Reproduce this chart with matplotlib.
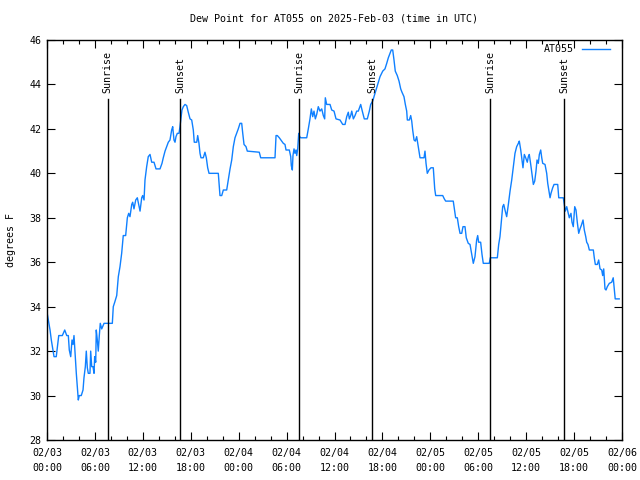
import matplotlib
matplotlib.use("Agg")
import matplotlib.pyplot as plt
from matplotlib.lines import Line2D

title = "Dew Point for AT055 on 2025-Feb-03 (time in UTC)"
series_name = "AT055"
ylabel = "degrees F"

# hours since 2025-02-03 00:00 UTC
hours = [0.00, 0.38, 0.54, 0.88, 1.16, 1.38, 1.47, 1.92, 2.22, 2.47, 2.67, 2.79, 2.97, 3.13, 3.26,
         3.38, 3.54, 3.67, 3.79, 3.92, 4.04, 4.29, 4.51, 4.63, 4.80, 4.92, 5.05, 5.17, 5.38, 5.47,
         5.60, 5.76, 5.89, 5.97, 6.10, 6.17, 6.30, 6.42, 6.55, 6.67, 6.85, 6.97, 7.14, 8.18,
         8.30, 8.48, 8.73, 8.93, 9.14, 9.35, 9.55, 9.85, 10.06, 10.23, 10.39, 10.61, 10.73, 10.89,
         11.11, 11.31, 11.48, 11.65, 11.86, 11.98, 12.15, 12.27, 12.48, 12.68, 12.90, 13.11, 13.40,
         13.65, 14.15, 14.40, 14.56, 14.78, 14.99, 15.19, 15.40, 15.61, 15.74, 15.90, 16.03, 16.15,
         16.32, 16.53, 16.65,
         16.78, 16.90, 17.07, 17.28, 17.49, 17.69, 17.91, 18.12, 18.32, 18.44, 18.75, 18.87, 19.03,
         19.16, 19.28, 19.57, 19.78, 19.95, 20.12, 20.29, 21.45, 21.58, 21.66, 21.88, 22.08, 22.50,
         22.70, 22.92, 23.13, 23.33, 23.54, 23.75, 23.95, 24.17, 24.38, 24.51, 24.67, 24.92, 25.08,
         26.58, 26.76, 28.55, 28.68, 28.84, 29.09, 29.39, 29.59, 29.80, 29.93, 30.34, 30.52, 30.59,
         30.72, 30.80, 30.93, 31.05, 31.18, 31.27, 31.39, 31.52, 31.64, 31.77, 32.52, 32.72, 32.93,
         33.10, 33.27, 33.43, 33.60, 33.77, 33.97, 34.18, 34.40, 34.60, 34.77, 34.85, 35.02, 35.44,
         35.65, 35.94, 36.19, 36.69, 37.03, 37.32, 37.53, 37.73, 37.86, 38.03, 38.16, 38.36, 38.57,
         38.78, 38.98, 39.28, 39.48, 39.73, 40.11, 40.36, 40.53, 40.78, 41.07, 41.36, 41.70, 42.04,
         42.32, 42.54, 42.74, 42.95, 43.11, 43.29, 43.45, 43.61, 43.86, 44.08, 44.29, 44.45, 44.70,
         44.87, 45.04, 45.12, 45.37, 45.54, 45.67, 45.79, 45.96, 46.12, 46.29, 46.42, 46.58, 46.71,
         47.21, 47.33, 47.46, 47.62, 47.83, 48.08, 48.37, 48.55, 48.67, 49.55, 49.75, 49.92, 50.87,
         51.05, 51.17, 51.38, 51.55, 51.72, 51.93, 52.09, 52.34, 52.50, 52.75, 52.97, 53.18, 53.38,
         53.59, 53.80, 53.93, 54.05, 54.30, 54.47, 54.63, 55.38, 55.51, 56.39, 56.56, 56.72, 56.94,
         57.06, 57.19, 57.35, 57.56, 57.77, 57.98, 58.19, 58.39, 58.60, 58.81, 59.02, 59.14, 59.32,
         59.44, 59.60, 59.77, 59.94, 60.14, 60.27, 60.39, 60.57, 60.73, 60.90, 61.07, 61.23, 61.36,
         61.52, 61.65, 61.82, 61.95, 62.07, 62.36, 62.57, 62.70, 62.86, 62.99, 63.11, 63.32, 63.49,
         63.95, 64.08, 64.65, 64.78, 64.90, 65.08, 65.28, 65.40, 65.61, 65.74, 65.90, 66.08, 66.24,
         66.40, 66.58, 66.74, 66.90, 67.12, 67.28, 67.46, 67.58, 67.74, 67.91, 68.41, 68.53, 68.66,
         68.91, 69.08, 69.25, 69.46, 69.58, 69.71, 69.87, 70.00, 70.16, 70.41, 70.71, 70.90, 71.03,
         71.15, 71.65]

dewpoint = [33.75, 32.95, 32.5, 31.75, 31.75, 32.4, 32.7, 32.7, 32.95, 32.7, 32.7, 32.05, 31.75, 32.5, 32.3,
            32.7, 31.75, 31.0, 30.4, 29.8, 30.0, 30.0, 30.25, 30.8, 31.3, 32.0, 31.25, 31.0, 31.0, 32.0,
            31.3, 31.3, 31.0, 31.75, 31.5, 32.95, 32.5, 32.0, 32.7, 33.25, 33.0, 33.1, 33.25, 33.25,
            34.0, 34.2, 34.5, 35.35, 35.8, 36.4, 37.2, 37.2, 38.0, 38.2, 38.05, 38.6, 38.7, 38.4,
            38.8, 38.9, 38.6, 38.3, 38.9, 39.0, 38.8, 39.7, 40.3, 40.75, 40.85, 40.5, 40.5,
            40.2, 40.2, 40.45, 40.7, 41.0, 41.2, 41.4, 41.5, 41.95, 42.1, 41.5, 41.4, 41.65,
            41.8, 41.8, 42.1,
            42.5, 42.85, 43.0, 43.1, 43.05, 42.75, 42.45, 42.4, 41.95, 41.4, 41.4, 41.7, 41.35,
            40.9, 40.7, 40.7, 40.95, 40.7, 40.25, 40.0, 40.0, 39.4, 39.0, 39.0, 39.25, 39.25,
            39.7, 40.2, 40.6, 41.2, 41.6, 41.8, 42.0, 42.25, 42.25, 41.8, 41.3, 41.2, 41.0,
            40.95, 40.7, 40.7, 41.7, 41.7, 41.6, 41.45, 41.35, 41.3, 41.05, 41.05, 40.75, 40.35,
            40.15, 40.8, 41.1, 40.9, 41.05, 40.8, 41.1, 41.8, 41.65, 41.6, 41.6, 42.0, 42.45,
            42.9, 42.55, 42.8, 42.45, 42.65, 43.0, 42.8, 42.9, 42.6, 42.45, 43.4, 43.1, 43.1,
            42.85, 42.8, 42.45, 42.4, 42.2, 42.2, 42.55, 42.75, 42.45, 42.6, 42.8, 42.45, 42.6,
            42.8, 42.8, 43.1, 42.8, 42.45, 42.45, 42.8, 43.1, 43.25, 43.6, 43.95, 44.35, 44.6,
            44.7, 44.95, 45.2, 45.4, 45.55, 45.55, 45.1, 44.6, 44.4, 44.15, 43.8, 43.65, 43.45,
            43.1, 42.8, 42.4, 42.4, 42.6, 42.35, 41.95, 41.5, 41.45, 41.65, 41.35, 41.0, 40.7,
            40.7, 41.0, 40.45, 40.0, 40.15, 40.25, 40.25, 39.3, 39.0, 39.0, 38.85, 38.75, 38.75,
            38.3, 38.0, 38.0, 37.6, 37.3, 37.3, 37.6, 37.6, 37.1, 36.85, 36.8, 36.35, 35.95,
            36.25, 37.0, 37.2, 36.9, 36.9, 36.35, 35.95, 35.95, 36.2, 36.2, 36.8, 37.15, 38.05,
            38.5, 38.6, 38.35, 38.05, 38.6, 39.2, 39.7, 40.3, 40.9, 41.2, 41.35, 41.45, 41.05,
            40.7, 40.25, 40.85, 40.7, 40.5, 40.75, 40.85, 40.4, 39.95, 39.5, 39.65, 40.1, 40.6,
            40.45, 40.85, 41.05, 40.7, 40.45, 40.4, 40.0, 39.55, 39.2, 38.9, 39.1, 39.35, 39.5,
            39.5, 38.9, 38.9, 38.6, 38.3, 38.5, 38.2, 38.0, 38.2, 37.8, 37.6, 38.5, 38.35,
            37.8, 37.3, 37.5, 37.65, 37.9, 37.45, 37.15, 36.9, 36.8, 36.55, 36.55, 36.2, 35.9,
            35.9, 36.1, 35.7, 35.65, 35.4, 35.7, 34.8, 34.75, 34.9, 35.05, 35.1, 35.3, 34.8,
            34.35, 34.35]

event_hours = [7.60, 16.70, 31.59, 40.74, 55.51, 64.78]
event_labels = ["Sunrise", "Sunset", "Sunrise", "Sunset", "Sunrise", "Sunset"]

tick_hours = [0, 6, 12, 18, 24, 30, 36, 42, 48, 54, 60, 66, 72]
tick_labels = ["02/03\n00:00", "02/03\n06:00", "02/03\n12:00", "02/03\n18:00",
               "02/04\n00:00", "02/04\n06:00", "02/04\n12:00", "02/04\n18:00",
               "02/05\n00:00", "02/05\n06:00", "02/05\n12:00", "02/05\n18:00",
               "02/06\n00:00"]
yticks = [28, 30, 32, 34, 36, 38, 40, 42, 44, 46]

plt.rcParams['font.family'] = ['DejaVu Sans Mono']
FS = 7.2
line_color = '#0f80ff'

fig = plt.figure(figsize=(6.4, 4.8), dpi=100)
ax = fig.add_axes([47/640, 40/480, 575/640, 400/480])

ax.plot(hours, dewpoint, color=line_color, lw=1.0)

for h, lab in zip(event_hours, event_labels):
    ax.plot([h, h], [0, 0.852], color='black', lw=1.0,
            transform=ax.get_xaxis_transform())
    ax.text(h, 0.868, lab, rotation=90, ha='center', va='bottom', fontsize=FS,
            transform=ax.get_xaxis_transform())

ax.set_xlim(0, 72)
ax.set_ylim(28, 46)
ax.set_xticks(tick_hours)
ax.set_xticklabels(tick_labels, fontsize=FS, linespacing=1.55)
ax.set_xticks(range(0, 73, 2), minor=True)
ax.set_yticks(yticks)
ax.set_yticklabels([str(v) for v in yticks], fontsize=FS)
ax.tick_params(axis='both', which='major', direction='in', length=6, width=0.8,
               top=True, right=True, pad=4)
ax.tick_params(axis='x', which='major', pad=6)
ax.tick_params(axis='x', which='minor', direction='in', length=3, width=0.8,
               top=True, bottom=True)
ax.tick_params(axis='y', which='minor', left=False, right=False)
for s in ax.spines.values():
    s.set_linewidth(1.0)

ax.set_title(title, fontsize=FS, pad=13)
ax.set_ylabel(ylabel, fontsize=FS, labelpad=10)

# legend (gnuplot style: text then sample line)
ax.text(0.9165, 0.977, series_name, ha='right', va='center', fontsize=FS,
        transform=ax.transAxes)
ax.add_line(Line2D([0.930, 0.979], [0.977, 0.977], color=line_color, lw=1.0,
                   transform=ax.transAxes))

fig.savefig("out.png", dpi=100)
